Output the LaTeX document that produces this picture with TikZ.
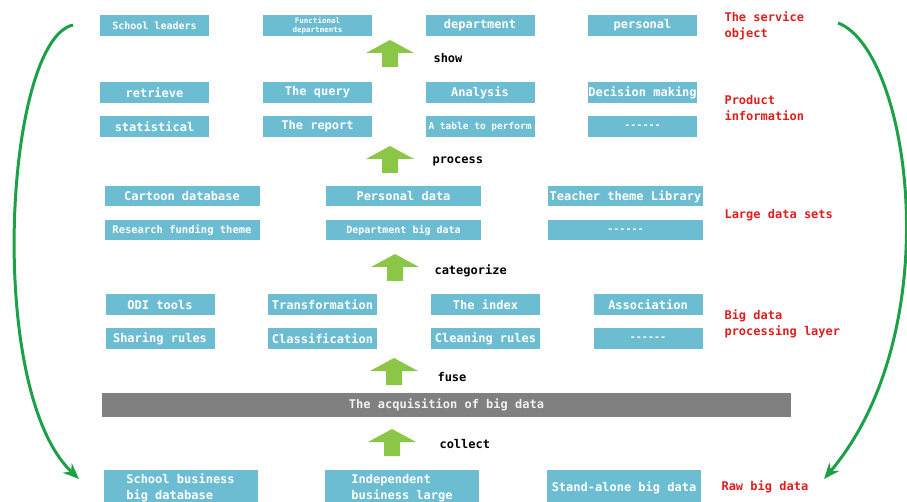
\documentclass[tikz,border=0pt]{standalone}
\usepackage{fontspec}
\setmonofont{DejaVu Sans Mono}
\usetikzlibrary{arrows.meta}
\definecolor{boxblue}{RGB}{108,188,210}
\definecolor{arrowgreen}{RGB}{140,198,70}
\definecolor{curvegreen}{RGB}{28,160,72}
\definecolor{labelred}{RGB}{224,30,30}
\definecolor{bargray}{RGB}{128,128,128}
\newcommand{\bigtt}{\ttfamily\bfseries\fontsize{12}{16}\selectfont}
\newcommand{\midtt}{\ttfamily\bfseries\fontsize{10}{12}\selectfont}
\begin{document}
\begin{tikzpicture}[x=1pt,y=-1pt,
  box/.style={fill=boxblue,text=white,inner sep=0pt,minimum width=109pt,minimum height=21pt,font=\bigtt},
  widebox/.style={box,minimum width=155pt,minimum height=20pt},
  rawbox/.style={box,anchor=north,minimum width=154pt,minimum height=36pt,align=left},
  smalltxt/.style={font=\midtt},
  steplabel/.style={anchor=west,font=\bigtt},
  layerlabel/.style={anchor=west,align=left,text=labelred,font=\bigtt},
  uparrow/.pic={\fill[arrowgreen] (0,0) -- (24,13) -- (8,13) -- (8,27) -- (-8,27) -- (-8,13) -- (-24,13) -- cycle;},
  greencurve/.style={curvegreen,line width=3pt,-{Stealth[length=16pt,width=13pt]}}]
\useasboundingbox (0,0) rectangle (907,502);
\clip (0,0) rectangle (907,502);
%service object
 \node[box,smalltxt] (leaders) at (154.5,25.5) {School leaders};
 \node[box,font=\ttfamily\bfseries\fontsize{7.5}{8.5}\selectfont,align=center] (funcdep) at (317.5,25.5) {Functional\\departments};
 \node[box] (depart) at (480,25.5) {department};
 \node[box] (person) at (642.5,25.5) {personal};
 \pic at (390,40) {uparrow}; %show arrow
 \node[steplabel] (lblShow) at (430,58) {show};
%product information
 \node[box] (retrieve) at (154.5,92.5) {retrieve};
 \node[box] (query) at (317.5,92.5) {The query};
 \node[box] (analysis) at (480,92.5) {Analysis};
 \node[box] (decision) at (642.5,92.5) {Decision making};
 \node[box] (statist) at (154.5,126.5) {statistical};
 \node[box] (report) at (317.5,126.5) {The report};
 \node[box,font=\ttfamily\bfseries\fontsize{9.5}{11}\selectfont] (perform) at (480,126.5) {A table to perform};
 \node[box,smalltxt] (dotsA) at (642.5,126.5) {------};
 \pic at (390,146) {uparrow}; %process arrow
 \node[steplabel] (lblProcess) at (429,161) {process};
%large data sets
 \node[widebox] (cartoon) at (182,196.5) {Cartoon database};
 \node[widebox] (persdata) at (403.5,196.5) {Personal data};
 \node[widebox] (teacher) at (625.5,196.5) {Teacher theme Library};
 \node[widebox,font=\ttfamily\bfseries\fontsize{10.5}{12}\selectfont] (funding) at (182,230.5) {Research funding theme};
 \node[widebox,smalltxt] (depdata) at (403.5,230.5) {Department big data};
 \node[widebox,smalltxt] (dotsB) at (625.5,230.5) {------};
 \pic at (395,254) {uparrow}; %categorize arrow
 \node[steplabel] (lblCat) at (431,271) {categorize};
%processing layer
 \node[box] (odi) at (160,305) {ODI tools};
 \node[box] (transf) at (322.5,305) {Transformation};
 \node[box] (index) at (485.5,305) {The index};
 \node[box] (assoc) at (648,305) {Association};
 \node[box] (sharing) at (160,338.5) {Sharing rules};
 \node[box] (classif) at (322.5,338.5) {Classification};
 \node[box] (cleaning) at (485.5,338.5) {Cleaning rules};
 \node[box,smalltxt] (dotsC) at (648,338.5) {------};
 \pic at (394,358) {uparrow}; %fuse arrow
 \node[steplabel] (lblFuse) at (434,377) {fuse};
%acquisition bar
 \node[fill=bargray,text=white!90!gray,minimum width=689pt,minimum height=24pt,inner sep=0pt,font=\bigtt] (acquis) at (446.5,405) {The acquisition of big data};
 \pic at (392,429) {uparrow}; %collect arrow
 \node[steplabel] (lblCollect) at (436,444) {collect};
%raw data
 \node[rawbox] (schoolbiz) at (180.5,470) {School business\\big database};
 \node[rawbox] (indep) at (402,470) {Independent\\business large};
 \node[rawbox] (alone) at (624,470) {Stand-alone big data};
%layer names
 \node[layerlabel] (lyService) at (721,26) {The service\\object};
 \node[layerlabel] (lyProduct) at (721,108.5) {Product\\information};
 \node[layerlabel] (lyLarge) at (721,215.5) {Large data sets};
 \node[layerlabel] (lyProc) at (721,324) {Big data\\processing layer};
 \node[layerlabel] (lyRaw) at (718,487) {Raw big data};
%green curves
 \coordinate (leftTop) at (73,25);
 \coordinate (leftEnd) at (79,479);
 \coordinate (rightTop) at (838,23);
 \coordinate (rightEnd) at (824,479);
 \draw[greencurve] (leftTop) .. controls (5,40) and (-15,390) .. (leftEnd);
 \draw[greencurve] (rightTop) .. controls (910,50) and (950,330) .. (rightEnd);
\end{tikzpicture}
\end{document}
